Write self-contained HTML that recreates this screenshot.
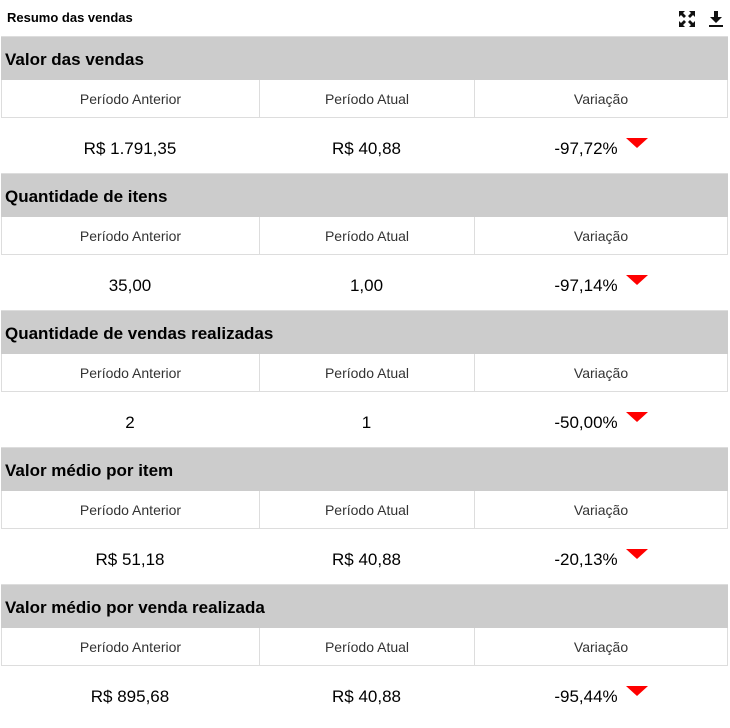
<!DOCTYPE html>
<html><head><meta charset="utf-8"><style>
body{margin:0;width:730px;height:725px;background:#fff;font-family:"Liberation Sans",sans-serif;position:relative;overflow:hidden}
.t{position:absolute;left:7px;top:10px;font-size:13px;font-weight:bold;color:#000}
.sec{position:absolute;left:1px;width:727px;height:137px}
.h{height:43px;background:#cccccc;border-top:1px solid #ddd;font-weight:bold;font-size:17px;line-height:46px;padding-left:4px;color:#000}
.r{display:flex;height:37px;border:1px solid #ddd;border-top:none;box-sizing:content-box}
.r div{font-size:14px;color:#333;text-align:center;line-height:39px}
.v{display:flex;height:55px}
.v div{font-size:17px;color:#000;text-align:center;line-height:62px;position:relative}
.c1{width:257px;border-right:1px solid #ddd}
.c2{width:214px;border-right:1px solid #ddd}
.c3{flex:1}
.v .c1,.v .c2{border-right:none}
.v .c1{width:258px}
.v .c2{width:215px}
.tri{display:inline-block;width:0;height:0;border-left:11px solid transparent;border-right:11px solid transparent;border-top:10px solid #f00;vertical-align:top;margin-top:20px;margin-left:8px}
</style></head><body>
<div class="t">Resumo das vendas</div>
<svg style="position:absolute;left:679px;top:11px" width="16" height="16" viewBox="0 0 16 16"><g fill="#111"><path d="M0 0h6L4 2l3 3-2 2-3-3-2 2z"/><path d="M16 0v6l-2-2-3 3-2-2 3-3-2-2z"/><path d="M0 16v-6l2 2 3-3 2 2-3 3 2 2z"/><path d="M16 16h-6l2-2-3-3 2-2 3 3 2-2z"/></g></svg>
<svg style="position:absolute;left:709px;top:11px" width="14" height="16" viewBox="0 0 14 16"><g fill="#111"><path d="M5 0h4v6h4l-6 6-6-6h4z"/><rect x="0" y="14" width="14" height="2"/></g></svg>

<div class="sec" style="top:36px"><div class="h">Valor das vendas</div>
<div class="r"><div class="c1">Período Anterior</div><div class="c2">Período Atual</div><div class="c3">Variação</div></div>
<div class="v"><div class="c1">R$ 1.791,35</div><div class="c2">R$ 40,88</div><div class="c3">-97,72%<span class="tri"></span></div></div></div>

<div class="sec" style="top:173px"><div class="h">Quantidade de itens</div>
<div class="r"><div class="c1">Período Anterior</div><div class="c2">Período Atual</div><div class="c3">Variação</div></div>
<div class="v"><div class="c1">35,00</div><div class="c2">1,00</div><div class="c3">-97,14%<span class="tri"></span></div></div></div>

<div class="sec" style="top:310px"><div class="h">Quantidade de vendas realizadas</div>
<div class="r"><div class="c1">Período Anterior</div><div class="c2">Período Atual</div><div class="c3">Variação</div></div>
<div class="v"><div class="c1">2</div><div class="c2">1</div><div class="c3">-50,00%<span class="tri"></span></div></div></div>

<div class="sec" style="top:447px"><div class="h">Valor médio por item</div>
<div class="r"><div class="c1">Período Anterior</div><div class="c2">Período Atual</div><div class="c3">Variação</div></div>
<div class="v"><div class="c1">R$ 51,18</div><div class="c2">R$ 40,88</div><div class="c3">-20,13%<span class="tri"></span></div></div></div>

<div class="sec" style="top:584px"><div class="h">Valor médio por venda realizada</div>
<div class="r"><div class="c1">Período Anterior</div><div class="c2">Período Atual</div><div class="c3">Variação</div></div>
<div class="v"><div class="c1">R$ 895,68</div><div class="c2">R$ 40,88</div><div class="c3">-95,44%<span class="tri"></span></div></div></div>
</body></html>
